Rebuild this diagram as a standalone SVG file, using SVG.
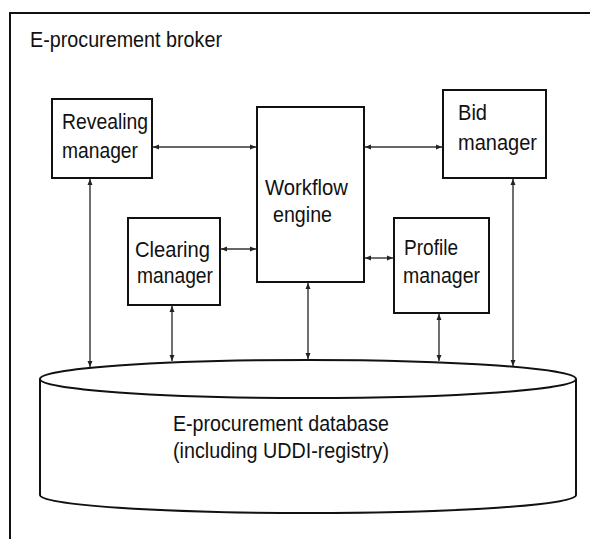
<svg xmlns="http://www.w3.org/2000/svg" width="590" height="539" viewBox="0 0 590 539">
<style>
text{font-family:"Liberation Sans",Arial,sans-serif;fill:#111;font-size:22.5px}
.box{fill:#fff;stroke:#111;stroke-width:2}
.con{stroke:#333;stroke-width:1.4;fill:none}
</style>
<defs>
<marker id="ah" viewBox="0 0 6 6" refX="6" refY="3" markerWidth="6" markerHeight="6" markerUnits="userSpaceOnUse" orient="auto-start-reverse">
<path d="M0,0.5 L6,3 L0,5.5 Z" fill="#222"/>
</marker>
</defs>
<rect width="590" height="539" fill="#fff"/>
<rect x="10" y="13" width="620" height="600" fill="none" stroke="#111" stroke-width="2"/>
<text x="30" y="47" font-size="23" textLength="192" lengthAdjust="spacingAndGlyphs">E-procurement broker</text>

<g id="database">
<path d="M40,379 L40,495 A268,18 0 0 0 576,495 L576,379" fill="#fff" stroke="#111" stroke-width="2"/>
<ellipse cx="308" cy="379" rx="268" ry="19" fill="#fff" stroke="#111" stroke-width="2"/>
<text x="173" y="431" font-size="25" textLength="216" lengthAdjust="spacingAndGlyphs">E-procurement database</text>
<text x="173" y="458" font-size="25" textLength="216" lengthAdjust="spacingAndGlyphs">(including UDDI-registry)</text>
</g>

<g id="connectors">
<line class="con" x1="153" y1="147" x2="256" y2="147" marker-start="url(#ah)" marker-end="url(#ah)"/>
<line class="con" x1="365" y1="147" x2="442" y2="147" marker-start="url(#ah)" marker-end="url(#ah)"/>
<line class="con" x1="221" y1="249" x2="256" y2="249" marker-start="url(#ah)" marker-end="url(#ah)"/>
<line class="con" x1="365" y1="258" x2="393" y2="258" marker-start="url(#ah)" marker-end="url(#ah)"/>
<line class="con" x1="90" y1="179" x2="90" y2="367" marker-start="url(#ah)" marker-end="url(#ah)"/>
<line class="con" x1="172" y1="306" x2="172" y2="361" marker-start="url(#ah)" marker-end="url(#ah)"/>
<line class="con" x1="308" y1="283" x2="308" y2="359" marker-start="url(#ah)" marker-end="url(#ah)"/>
<line class="con" x1="439" y1="314" x2="439" y2="361" marker-start="url(#ah)" marker-end="url(#ah)"/>
<line class="con" x1="513" y1="179" x2="513" y2="366" marker-start="url(#ah)" marker-end="url(#ah)" stroke-width="1.8"/>
</g>

<g id="revealing">
<rect class="box" x="52" y="99" width="100" height="79"/>
<text x="62" y="129" textLength="86" lengthAdjust="spacingAndGlyphs">Revealing</text>
<text x="62" y="158" textLength="76" lengthAdjust="spacingAndGlyphs">manager</text>
</g>
<g id="workflow">
<rect class="box" x="257" y="107" width="107" height="175"/>
<text x="265" y="195" textLength="83" lengthAdjust="spacingAndGlyphs">Workflow</text>
<text x="273" y="222" textLength="59" lengthAdjust="spacingAndGlyphs">engine</text>
</g>
<g id="bid">
<rect class="box" x="443" y="90" width="103" height="88"/>
<text x="458" y="120" textLength="29" lengthAdjust="spacingAndGlyphs">Bid</text>
<text x="458" y="150" textLength="79" lengthAdjust="spacingAndGlyphs">manager</text>
</g>
<g id="clearing">
<rect class="box" x="128" y="218" width="92" height="87"/>
<text x="135" y="257" textLength="75" lengthAdjust="spacingAndGlyphs">Clearing</text>
<text x="137" y="283" textLength="76" lengthAdjust="spacingAndGlyphs">manager</text>
</g>
<g id="profile">
<rect class="box" x="394" y="218" width="95" height="95"/>
<text x="404" y="255" textLength="54" lengthAdjust="spacingAndGlyphs">Profile</text>
<text x="403" y="283" textLength="77" lengthAdjust="spacingAndGlyphs">manager</text>
</g>
</svg>
